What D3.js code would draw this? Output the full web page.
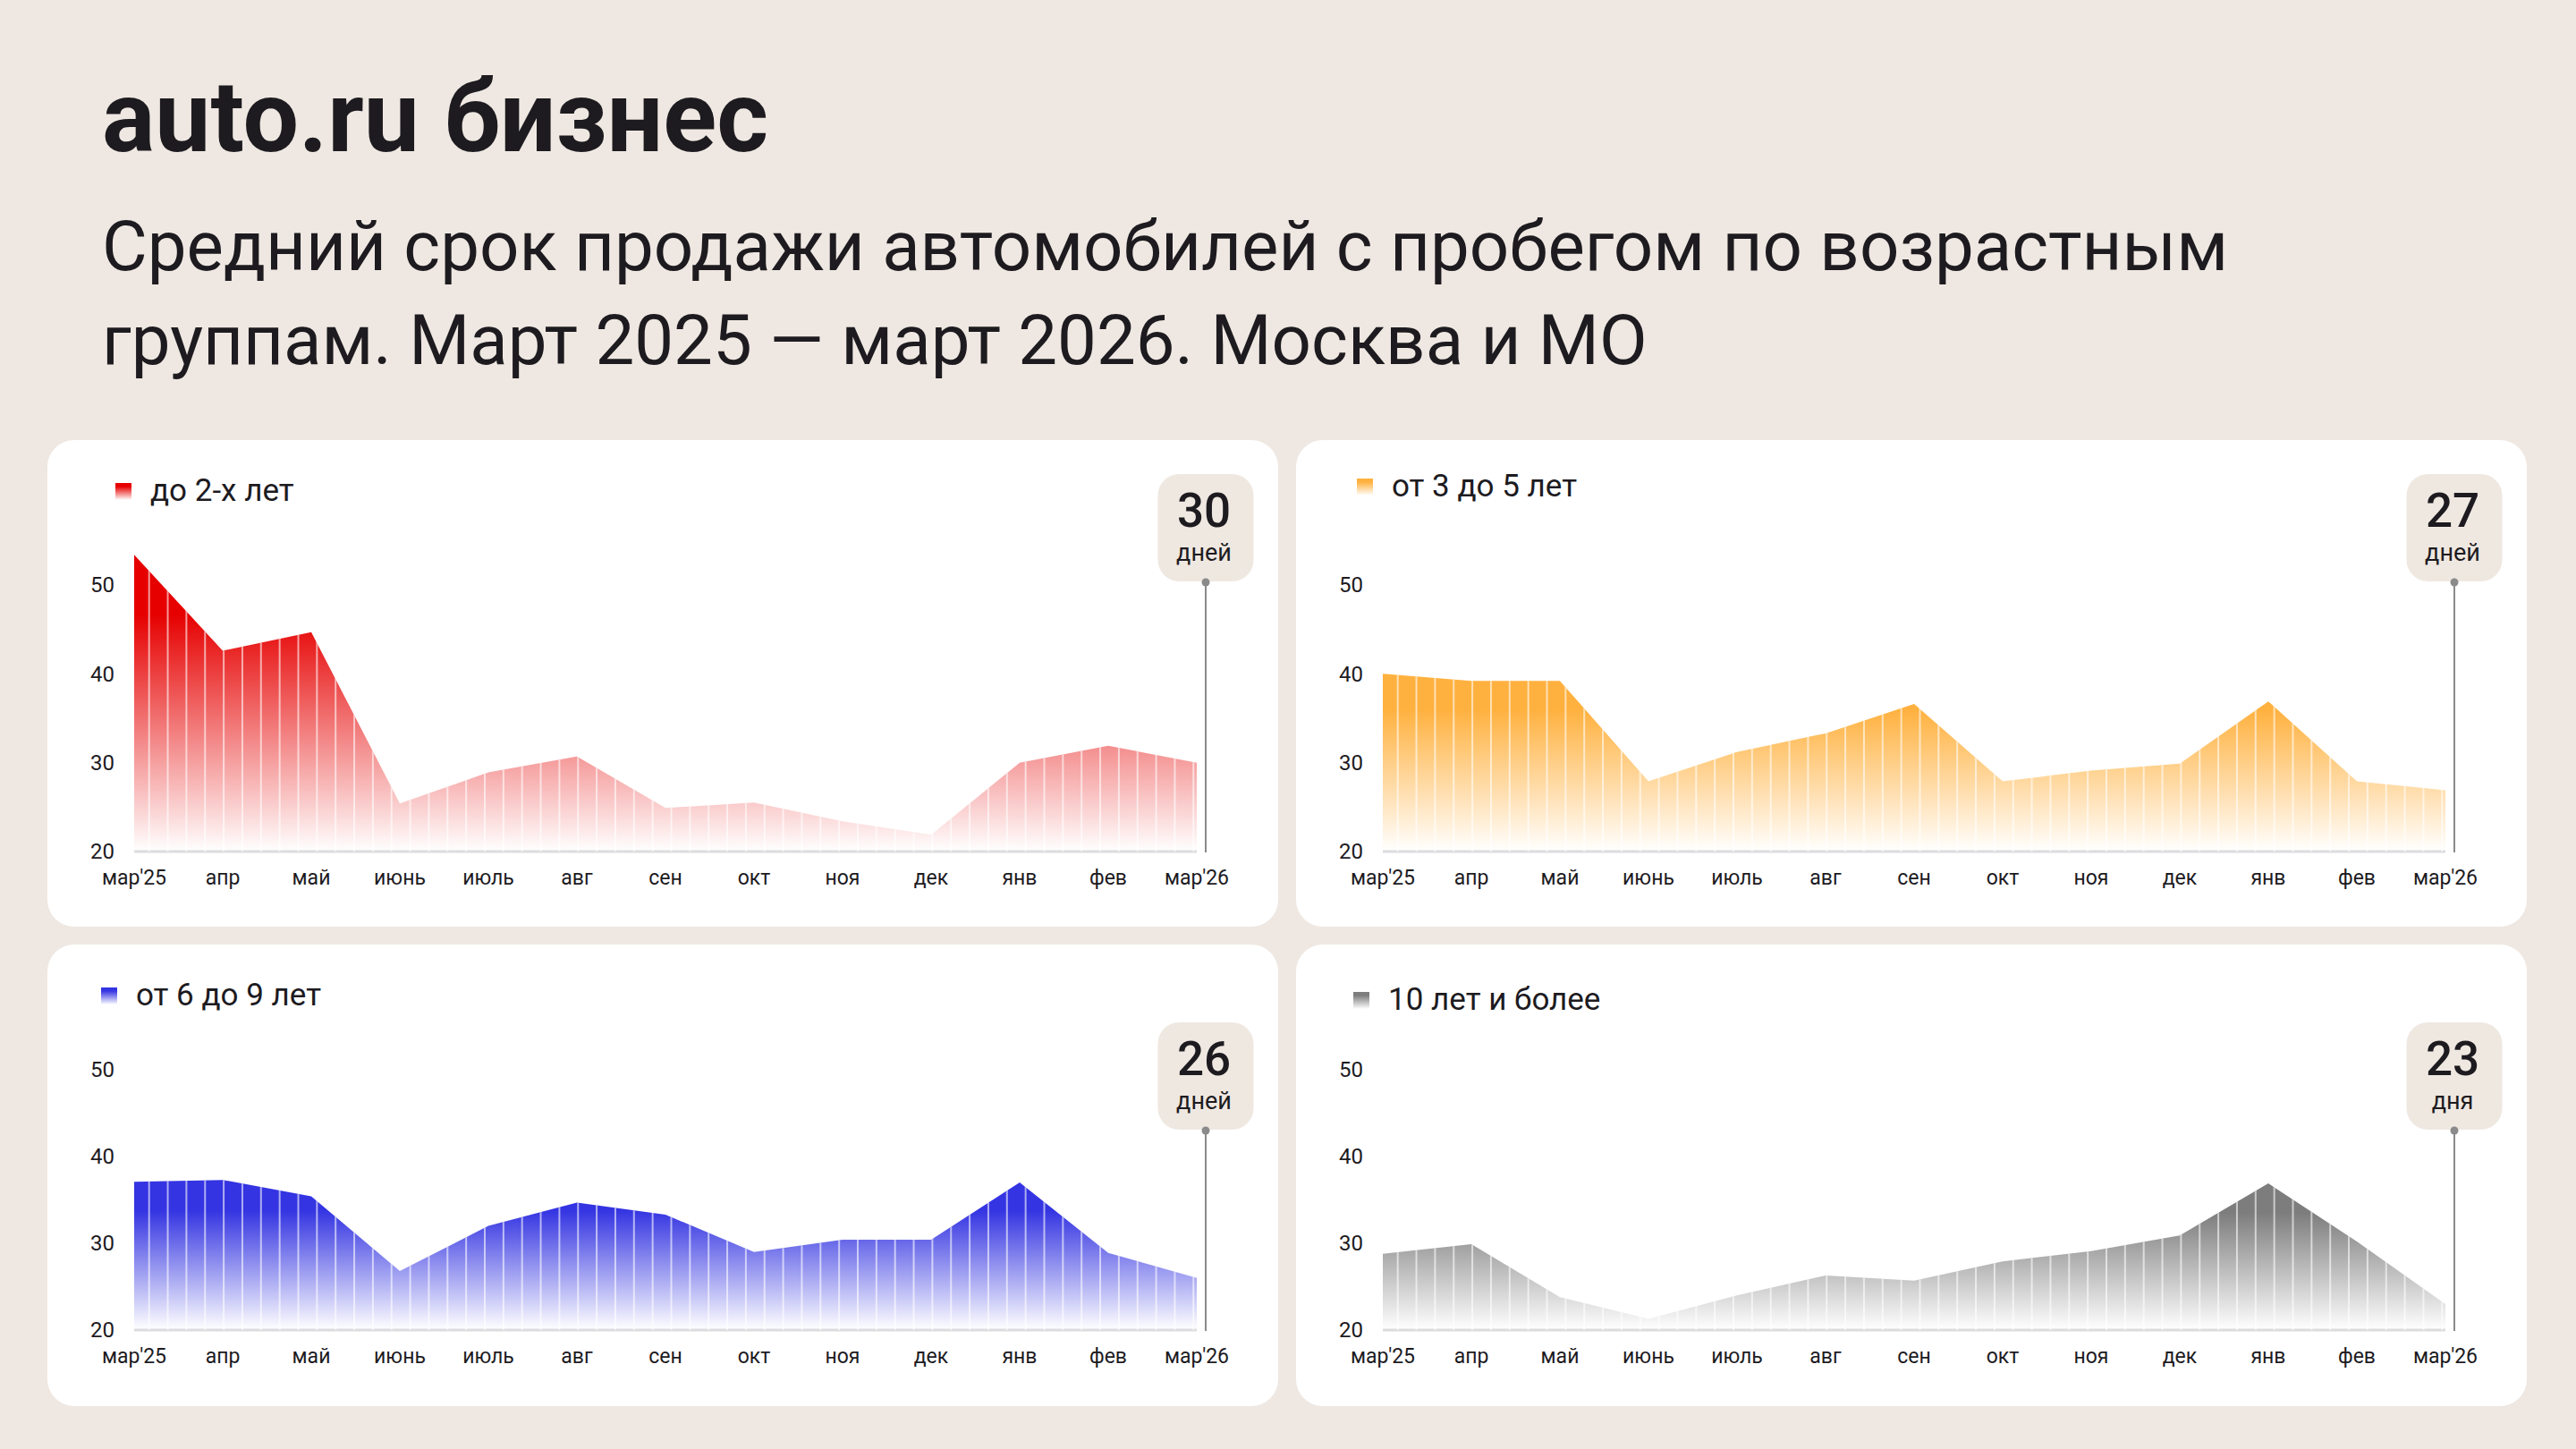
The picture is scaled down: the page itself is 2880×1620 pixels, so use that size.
<!DOCTYPE html>
<html>
<head>
<meta charset="utf-8">
<script src="https://cdn.jsdelivr.net/npm/d3@7"></script>
<style>
  body { margin: 0; background: #efe8e2; }
  svg { display: block; font-family: Roboto, "Noto Sans", sans-serif; }
</style>
</head>
<body>
<div class="chart"></div>
<script>
// ---- data ----
var months = ["мар'25", "апр", "май", "июнь", "июль", "авг", "сен", "окт", "ноя", "дек", "янв", "фев", "мар'26"];
var yTicks = [20, 30, 40, 50];

var groupNames = ["до 2-х лет", "от 3 до 5 лет", "от 6 до 9 лет", "10 лет и более"];
var under2 = [53.4, 42.6, 44.7, 25.4, 28.9, 30.7, 24.9, 25.5, 23.4, 21.9, 30.0, 31.9, 30.0];
var from3to5 = [40.0, 39.2, 39.2, 27.9, 31.2, 33.3, 36.6, 27.9, 29.1, 29.9, 36.9, 27.9, 26.9];
var from6to9 = [37.1, 37.3, 35.4, 26.8, 32.0, 34.7, 33.3, 29.0, 30.4, 30.4, 37.0, 28.9, 26.0];
var over10 = [28.8, 29.9, 23.8, 21.3, 24.0, 26.3, 25.7, 27.9, 29.1, 30.9, 36.9, 30.2, 23.0];
var badgeValues = ["30", "27", "26", "23"];
var badgeUnits = ["дней", "дней", "дней", "дня"];

var title = "auto.ru бизнес";
var subtitle = ["Средний срок продажи автомобилей с пробегом по возрастным",
                "группам. Март 2025 — март 2026. Москва и МО"];

// ---- layout ----
var W = 2880, H = 1620;
var textColor = "#1d1b1f";
var colors = ["#e60000", "#ffb13f", "#3434e2", "#7d7d7d"];
var series = [under2, from3to5, from6to9, over10];

// panel boxes, y20/y50 are relative to panel top
var panels = [
    { x: 53,   y: 492,  w: 1376, h: 544, y20: 460, y50: 162, badgeTop: 38, legX: 76, legY: 48 },
    { x: 1449, y: 492,  w: 1376, h: 544, y20: 460, y50: 162, badgeTop: 38, legX: 68, legY: 43 },
    { x: 53,   y: 1056, w: 1376, h: 516, y20: 431, y50: 140, badgeTop: 87, legX: 60, legY: 48 },
    { x: 1449, y: 1056, w: 1376, h: 516, y20: 431, y50: 140, badgeTop: 87, legX: 64, legY: 53 }
];
var plotLeft = 97, plotWidth = 1188;
var stripeOffset = 16.7, stripeStep = 20.85;

var svg = d3.select(".chart")
    .append("svg")
    .attr("width", W)
    .attr("height", H);

svg.append("rect").attr("width", W).attr("height", H).attr("fill", "#efe8e2");

var defs = svg.append("defs");

// fit a text element to a given width by scaling its font size
function fitWidth(sel, target) {
    var fs = parseFloat(sel.attr("font-size"));
    var len = sel.node().getComputedTextLength();
    var nfs = fs * target / len;
    sel.attr("font-size", nfs);
    return nfs;
}

// ---- header ----
var t = svg.append("text")
    .attr("x", 114).attr("y", 169)
    .attr("font-size", 100).attr("font-weight", 700)
    .attr("fill", textColor)
    .text(title);
fitWidth(t, 745);

var s1 = svg.append("text")
    .attr("x", 114).attr("y", 302)
    .attr("font-size", 80)
    .attr("fill", textColor)
    .text(subtitle[0]);
var subFs = fitWidth(s1, 2377);
svg.append("text")
    .attr("x", 114).attr("y", 407)
    .attr("font-size", subFs)
    .attr("fill", textColor)
    .text(subtitle[1]);

// ---- panels ----
panels.forEach(function (p, i) {
    var values = series[i];
    var g = svg.append("g").attr("transform", "translate(" + p.x + "," + p.y + ")");

    g.append("rect")
        .attr("width", p.w).attr("height", p.h)
        .attr("rx", 30).attr("fill", "#fff");

    var x = d3.scalePoint()
        .domain(months)
        .range([plotLeft, plotLeft + plotWidth]);
    var y = d3.scaleLinear()
        .domain([20, 50])
        .range([p.y20, p.y50]);

    var gradId = "grad" + i;
    var grad = defs.append("linearGradient")
        .attr("id", gradId)
        .attr("x1", 0).attr("y1", 0).attr("x2", 0).attr("y2", 1);
    grad.append("stop").attr("offset", 0).attr("stop-color", colors[i]);
    grad.append("stop").attr("offset", 0.2).attr("stop-color", colors[i]);
    grad.append("stop").attr("offset", 1).attr("stop-color", "#ffffff");

    var area = d3.area()
        .x(function (d, j) { return x(months[j]); })
        .y0(y(20))
        .y1(function (d) { return y(d); });

    var clipId = "clip" + i;
    defs.append("clipPath").attr("id", clipId)
        .append("path").attr("d", area(values))
        .attr("transform", "translate(" + p.x + "," + p.y + ")");

    g.append("path")
        .attr("d", area(values))
        .attr("fill", "url(#" + gradId + ")");

    // thin white stripes inside the area
    var stripes = d3.range(plotLeft + stripeOffset, plotLeft + plotWidth, stripeStep);
    svg.append("g")
        .attr("clip-path", "url(#" + clipId + ")")
        .selectAll("line")
        .data(stripes)
        .enter()
        .append("line")
        .attr("x1", function (d) { return p.x + d; })
        .attr("x2", function (d) { return p.x + d; })
        .attr("y1", p.y + y(60))
        .attr("y2", p.y + y(20))
        .attr("stroke", "#fff")
        .attr("stroke-width", 2)
        .attr("stroke-opacity", 0.6);

    // baseline
    g.append("rect")
        .attr("x", plotLeft).attr("y", y(20) - 1.5)
        .attr("width", plotWidth).attr("height", 3)
        .attr("fill", "#dcdcdf");

    // y labels
    g.selectAll(".ylab")
        .data(yTicks)
        .enter()
        .append("text")
        .attr("x", plotLeft - 22)
        .attr("y", function (d) { return y(d); })
        .attr("dy", "0.35em")
        .attr("text-anchor", "end")
        .attr("font-size", 24)
        .attr("fill", textColor)
        .text(function (d) { return d; });

    // x labels
    g.selectAll(".xlab")
        .data(months)
        .enter()
        .append("text")
        .attr("x", function (d) { return x(d); })
        .attr("y", y(20) + 37)
        .attr("text-anchor", "middle")
        .attr("font-size", 23)
        .attr("fill", textColor)
        .text(function (d) { return d; });

    // legend
    g.append("rect")
        .attr("x", p.legX).attr("y", p.legY)
        .attr("width", 18).attr("height", 19)
        .attr("fill", "url(#" + gradId + ")");
    g.append("text")
        .attr("x", p.legX + 39).attr("y", p.legY + 20)
        .attr("font-size", 35)
        .attr("fill", textColor)
        .text(groupNames[i]);

    // badge with last value
    var bx = x(months[months.length - 1]) + 10;
    var bw = 107, bh = 120;
    g.append("line")
        .attr("x1", bx).attr("x2", bx)
        .attr("y1", p.badgeTop + bh)
        .attr("y2", y(20) + 1)
        .attr("stroke", "#8a8a8a")
        .attr("stroke-width", 2);
    g.append("rect")
        .attr("x", bx - bw / 2).attr("y", p.badgeTop)
        .attr("width", bw).attr("height", bh)
        .attr("rx", 24)
        .attr("fill", "#efe8e1");
    g.append("circle")
        .attr("cx", bx).attr("cy", p.badgeTop + bh + 1)
        .attr("r", 4.5)
        .attr("fill", "#8a8a8a");
    g.append("text")
        .attr("x", bx - 2).attr("y", p.badgeTop + 59)
        .attr("text-anchor", "middle")
        .attr("font-size", 53)
        .attr("font-weight", 500)
        .attr("fill", textColor)
        .text(badgeValues[i]);
    g.append("text")
        .attr("x", bx - 2).attr("y", p.badgeTop + 97)
        .attr("text-anchor", "middle")
        .attr("font-size", 27)
        .attr("fill", textColor)
        .text(badgeUnits[i]);
});
</script>
</body>
</html>
